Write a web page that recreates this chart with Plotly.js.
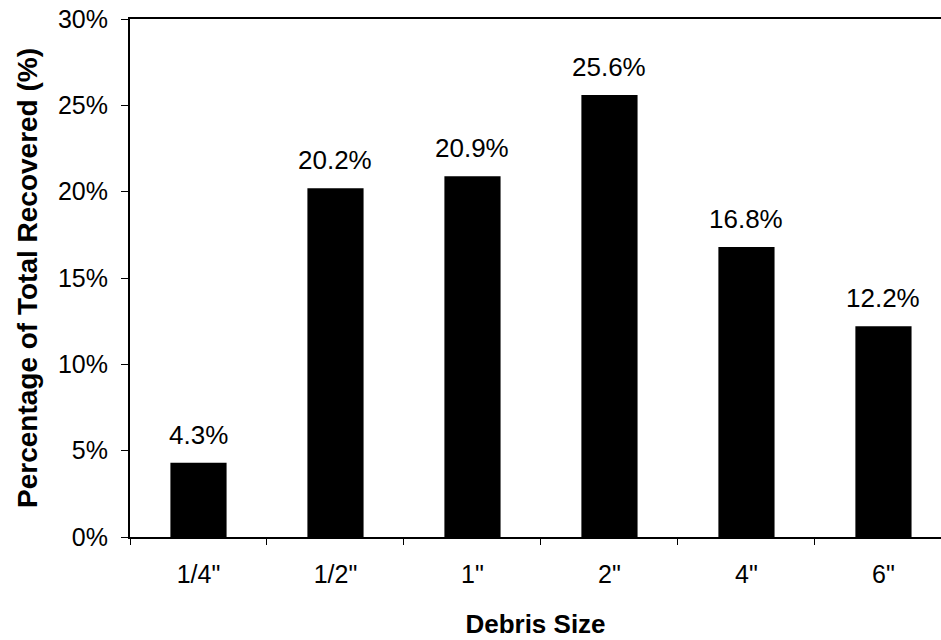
<!DOCTYPE html>
<html>
<head>
<meta charset="utf-8">
<script src="https://cdn.plot.ly/plotly-3.0.1.min.js"></script>
<style>html,body{margin:0;padding:0;background:#fff;}#chart{width:941px;height:640px;}</style>
</head>
<body>
<div id="chart"></div>
<script>
const categories = ['1/4"', '1/2"', '1"', '2"', '4"', '6"'];
const percentRecovered = [4.3, 20.2, 20.9, 25.6, 16.8, 12.2];
const valueLabels = ['4.3%', '20.2%', '20.9%', '25.6%', '16.8%', '12.2%'];
const yTickVals = [0, 5, 10, 15, 20, 25, 30];
const yTickText = ['0%', '5%', '10%', '15%', '20%', '25%', '30%'];

const font = 'Liberation Sans, Arial, sans-serif';

const trace = {
  type: 'bar',
  x: categories,
  y: percentRecovered,
  marker: {color: '#000000'},
  hoverinfo: 'none'
};

const annotations = categories.map((c, i) => ({
  x: c, y: percentRecovered[i], xref: 'x', yref: 'y',
  text: valueLabels[i], showarrow: false,
  yanchor: 'bottom', yshift: 11,
  font: {family: font, size: 26, color: '#000'}
}));

const layout = {
  width: 941, height: 640,
  margin: {l: 130, r: 0, t: 19, b: 103},
  paper_bgcolor: '#fff', plot_bgcolor: '#fff',
  showlegend: false,
  bargap: 0.59,
  font: {family: font, color: '#000'},
  xaxis: {
    type: 'category',
    range: [-0.5, 5.42],
    showline: true, linecolor: '#000', linewidth: 2,
    mirror: true,
    ticks: 'outside', tickson: 'boundaries', ticklen: 6, tickcolor: '#000', tickwidth: 1,
    ticklabelstandoff: 14,
    tickfont: {family: font, size: 25, color: '#000'},
    showgrid: false, zeroline: false,
    title: {text: '<b>Debris Size</b>', font: {family: font, size: 26, color: '#000'}, standoff: 28}
  },
  yaxis: {
    range: [0, 30],
    tickvals: yTickVals, ticktext: yTickText,
    showline: true, linecolor: '#000', linewidth: 2,
    ticks: 'outside', ticklen: 7, tickcolor: '#000', tickwidth: 1,
    ticklabelstandoff: 8,
    tickfont: {family: font, size: 25, color: '#000'},
    showgrid: false, zeroline: false,
    title: {text: '<b>Percentage of Total Recovered (%)</b>', font: {family: font, size: 28, color: '#000'}, standoff: 12}
  },
  annotations: annotations
};

Plotly.newPlot('chart', [trace], layout, {displayModeBar: false, staticPlot: true});
</script>
</body>
</html>
